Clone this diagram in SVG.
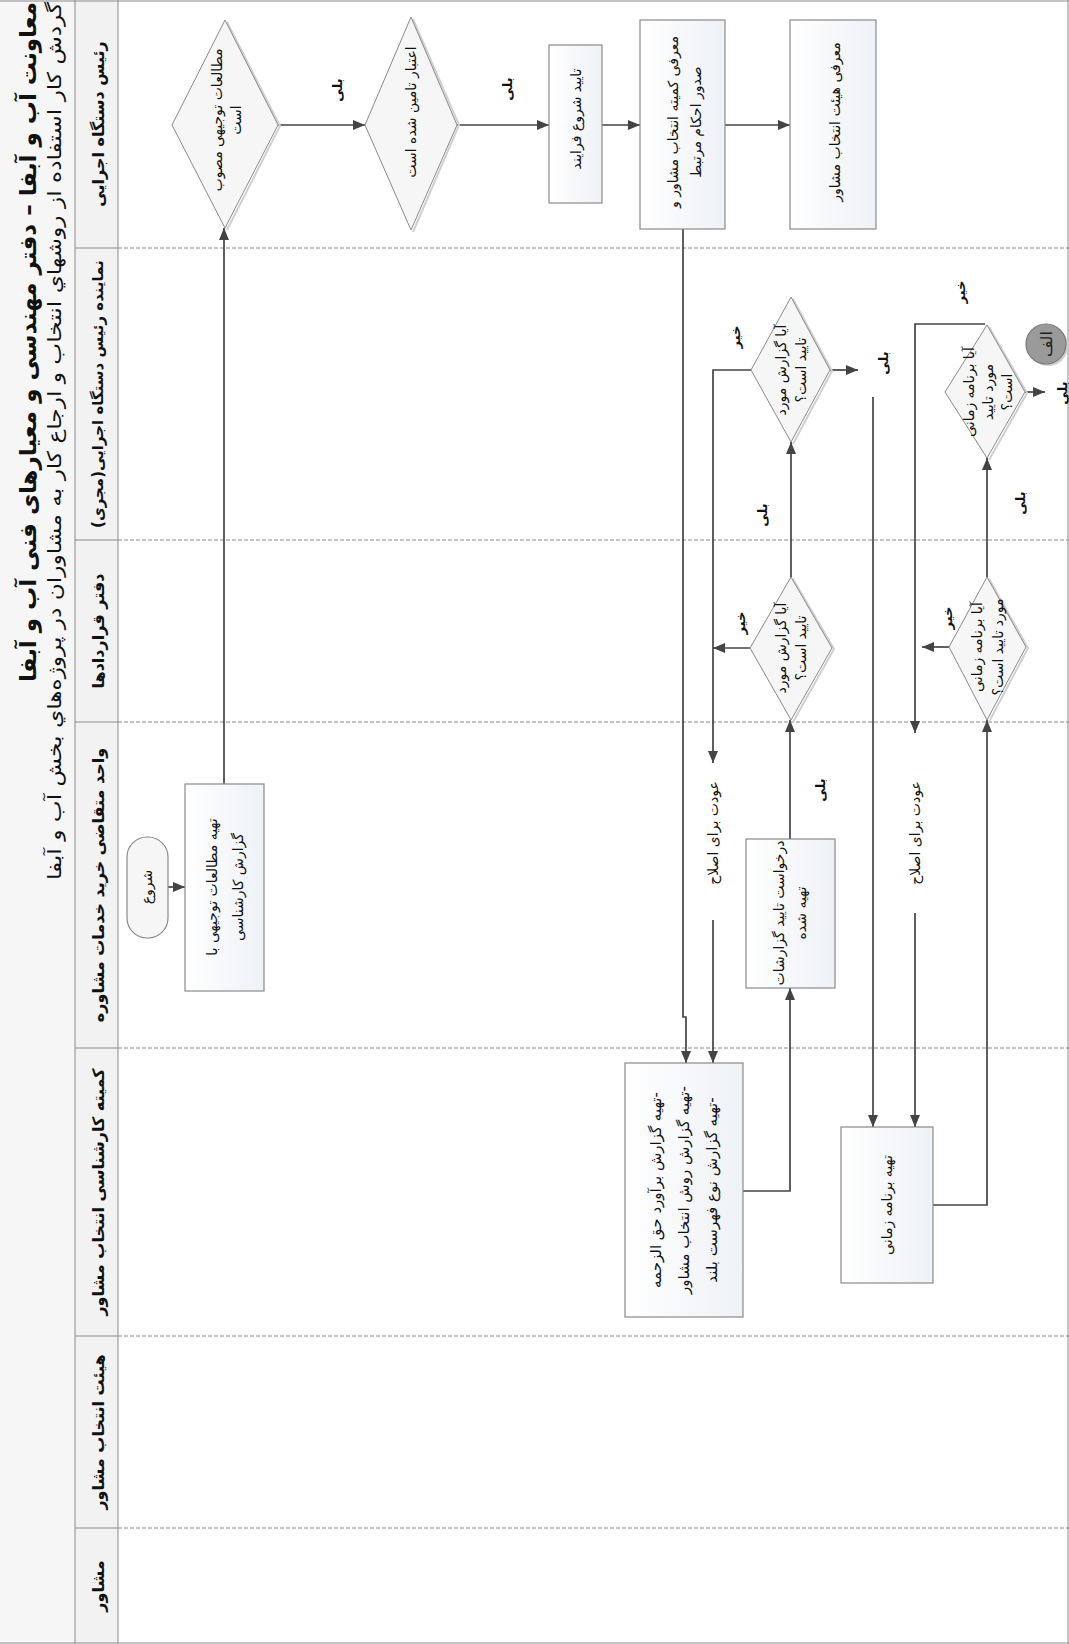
<svg xmlns="http://www.w3.org/2000/svg" width="1069" height="1644" viewBox="0 0 1069 1644">
<style>
text{font-family:"DejaVu Sans",sans-serif;fill:#111;direction:rtl;dominant-baseline:central;text-anchor:middle}
.box{fill:url(#gb);stroke:#8a8a8a;stroke-width:1.2}
.dia{fill:#f6f6f6;stroke:#8a8a8a;stroke-width:1}
.sh{fill:none;stroke:#d0d0d0;stroke-width:2}
.e{fill:none;stroke:#444;stroke-width:1.7}
.lane{stroke:#8a8a8a;stroke-width:1;stroke-dasharray:4 2}
.hl{stroke:#8a8a8a;stroke-width:1}
.n{font-size:14px}
.lb{font-size:13px;font-weight:bold}
.hd{font-size:16px;font-weight:bold}
</style>
<defs>
<linearGradient id="gb" x1="0" y1="0" x2="1" y2="0"><stop offset="0" stop-color="#ffffff"/><stop offset="1" stop-color="#eef1f6"/></linearGradient>
<marker id="ar" viewBox="0 0 12 10" refX="12" refY="5" markerWidth="12" markerHeight="10" markerUnits="userSpaceOnUse" orient="auto"><path d="M0,0 L12,5 L0,10 z" fill="#444"/></marker>
</defs>
<rect x="0" y="0" width="1069" height="1644" fill="#fff"/>
<g id="header">
<rect x="0" y="0" width="75" height="1644" fill="#f6f6f6"/>
<rect x="75" y="0" width="43" height="1644" fill="#f2f2f2"/>
<line class="hl" x1="0" y1="1" x2="1069" y2="1"/>
<line class="hl" x1="0" y1="1643" x2="1069" y2="1643"/>
<line class="hl" x1="1068" y1="0" x2="1068" y2="1644"/>
<line class="hl" x1="75" y1="0" x2="75" y2="1644"/>
<line class="hl" x1="118" y1="0" x2="118" y2="1644"/>
<text transform="translate(28,2) rotate(-90)" style="text-anchor:start;font-size:23px;font-weight:bold" textLength="680" lengthAdjust="spacingAndGlyphs">معاونت آب و آبفا – دفتر مهندسی و معیارهای فنی آب و آبفا</text>
<text transform="translate(54,2) rotate(-90)" style="text-anchor:start;font-size:19px" textLength="878" lengthAdjust="spacingAndGlyphs">گردش کار استفاده از روشهاي انتخاب و ارجاع کار به مشاوران در پروژه‌هاي بخش آب و آبفا</text>
<line class="hl" x1="75" y1="248" x2="118" y2="248"/>
<line class="hl" x1="75" y1="540" x2="118" y2="540"/>
<line class="hl" x1="75" y1="722" x2="118" y2="722"/>
<line class="hl" x1="75" y1="1048" x2="118" y2="1048"/>
<line class="hl" x1="75" y1="1336" x2="118" y2="1336"/>
<line class="hl" x1="75" y1="1528" x2="118" y2="1528"/>
<text class="hd" transform="translate(98,124) rotate(-90)">رئیس دستگاه اجرایی</text>
<text class="hd" style="font-size:15px" transform="translate(98,394) rotate(-90)">نماینده رئیس دستگاه اجرایی(مجری)</text>
<text class="hd" transform="translate(98,631) rotate(-90)">دفتر قراردادها</text>
<text class="hd" transform="translate(98,885) rotate(-90)">واحد متقاضی خرید خدمات مشاوره</text>
<text class="hd" transform="translate(98,1192) rotate(-90)">کمیته کارشناسی انتخاب مشاور</text>
<text class="hd" transform="translate(98,1432) rotate(-90)">هیئت انتخاب مشاور</text>
<text class="hd" transform="translate(98,1586) rotate(-90)">مشاور</text>
</g>
<g id="lanes">
<line class="lane" x1="118" y1="248" x2="1069" y2="248"/>
<line class="lane" x1="118" y1="540" x2="1069" y2="540"/>
<line class="lane" x1="118" y1="722" x2="1069" y2="722"/>
<line class="lane" x1="118" y1="1048" x2="1069" y2="1048"/>
<line class="lane" x1="118" y1="1336" x2="1069" y2="1336"/>
<line class="lane" x1="118" y1="1528" x2="1069" y2="1528"/>
</g>
<g id="connectors">
<path class="e" d="M168,887 H185" marker-end="url(#ar)"/>
<path class="e" d="M224,784 V228" marker-end="url(#ar)"/>
<path class="e" d="M278,125 H365" marker-end="url(#ar)"/>
<path class="e" d="M457,125 H549" marker-end="url(#ar)"/>
<path class="e" d="M602,125 H640" marker-end="url(#ar)"/>
<path class="e" d="M725,125 H790" marker-end="url(#ar)"/>
<path class="e" d="M683,229 V1017 H686 V1063" marker-end="url(#ar)"/>
<path class="e" d="M743,1191 H790 V988" marker-end="url(#ar)"/>
<path class="e" d="M790,839 V720" marker-end="url(#ar)"/>
<path class="e" d="M791,577 V442" marker-end="url(#ar)"/>
<path class="e" d="M750,648 H713" marker-end="url(#ar)"/>
<path class="e" d="M751,370 H713 V763" marker-end="url(#ar)"/>
<path class="e" d="M713,920 V1063" marker-end="url(#ar)"/>
<path class="e" d="M830,370 H858" marker-end="url(#ar)"/>
<path class="e" d="M873,397 V1127" marker-end="url(#ar)"/>
<path class="e" d="M933,1205 H987 V720" marker-end="url(#ar)"/>
<path class="e" d="M987,577 V458" marker-end="url(#ar)"/>
<path class="e" d="M949,647 H922" marker-end="url(#ar)"/>
<path class="e" d="M985,324 H915 V733" marker-end="url(#ar)"/>
<path class="e" d="M915,913 V1127" marker-end="url(#ar)"/>
<path class="e" d="M1025,392 H1045" marker-end="url(#ar)"/>
<text class="lb" transform="translate(337,90) rotate(-90)">بلی</text>
<text class="lb" transform="translate(507,89) rotate(-90)">بلی</text>
<text class="lb" transform="translate(762,515) rotate(-90)">بلی</text>
<text class="lb" transform="translate(883,363) rotate(-90)">بلی</text>
<text class="lb" transform="translate(820,790) rotate(-90)">بلی</text>
<text class="lb" transform="translate(1020,503) rotate(-90)">بلی</text>
<text class="lb" transform="translate(1062,393) rotate(-90)">بلی</text>
<text class="lb" transform="translate(740,623) rotate(-90)">خیر</text>
<text class="lb" transform="translate(735,337) rotate(-90)">خیر</text>
<text class="lb" transform="translate(947,618) rotate(-90)">خیر</text>
<text class="lb" transform="translate(960,292) rotate(-90)">خیر</text>
<text class="n" transform="translate(713,833) rotate(-90)">عودت برای اصلاح</text>
<text class="n" transform="translate(915,833) rotate(-90)">عودت برای اصلاح</text>
</g>
<g id="n-start">
<rect x="127" y="837" width="41" height="101" rx="20" ry="20" fill="#f6f6f6" stroke="#8a8a8a" stroke-width="1.2"/>
<text class="n" transform="translate(147,887) rotate(-90)">شروع</text>
</g>
<g id="n-study">
<rect class="box" x="185" y="784" width="79" height="207"/>
<text class="n" transform="translate(224,887) rotate(-90)"><tspan x="0" y="-12">تهیه مطالعات توجیهی با</tspan><tspan x="0" y="14">گزارش کارشناسی</tspan></text>
</g>
<g id="n-d1">
<path class="sh" d="M227,22 L280,126 L227,230"/>
<path class="dia" d="M225,20 L278,125 L225,228 L172,125 z"/>
<text class="n" transform="translate(225,120) rotate(-90)"><tspan x="0" y="-8">مطالعات توجیهی مصوب</tspan><tspan x="0" y="11">است</tspan></text>
</g>
<g id="n-d2">
<path class="sh" d="M413,19 L459,125 L413,232"/>
<path class="dia" d="M411,17 L457,125 L411,230 L365,125 z"/>
<text class="n" transform="translate(411,112) rotate(-90)">اعتبار تامین شده است</text>
</g>
<g id="n-approve">
<rect class="box" x="549" y="45" width="53" height="158"/>
<text class="n" transform="translate(576,119) rotate(-90)">تایید شروع فرایند</text>
</g>
<g id="n-committee-intro">
<rect class="box" x="640" y="20" width="85" height="209"/>
<text class="n" transform="translate(684,122) rotate(-90)"><tspan x="0" y="-11">معرفی کمیته انتخاب مشاور و</tspan><tspan x="0" y="12">صدور احکام مرتبط</tspan></text>
</g>
<g id="n-board-intro">
<rect class="box" x="790" y="20" width="86" height="209"/>
<text class="n" transform="translate(835,122) rotate(-90)">معرفی هیئت انتخاب مشاور</text>
</g>
<g id="n-dB">
<path class="sh" d="M793,299 L832,371 L793,444"/>
<path class="dia" d="M791,297 L830,370 L791,442 L751,370 z"/>
<text class="n" transform="translate(791,370) rotate(-90)"><tspan x="0" y="-10">آیا گزارش مورد</tspan><tspan x="0" y="10">تایید است؟</tspan></text>
</g>
<g id="n-dA">
<path class="sh" d="M793,579 L834,649 L793,722"/>
<path class="dia" d="M791,577 L832,648 L791,720 L750,648 z"/>
<text class="n" transform="translate(791,648) rotate(-90)"><tspan x="0" y="-10">آیا گزارش مورد</tspan><tspan x="0" y="10">تایید است؟</tspan></text>
</g>
<g id="n-request">
<rect class="box" x="746" y="839" width="89" height="149"/>
<text class="n" transform="translate(790,913) rotate(-90)"><tspan x="0" y="-11">درخواست تایید گزارشات</tspan><tspan x="0" y="11">تهیه شده</tspan></text>
</g>
<g id="n-reports">
<rect class="box" x="625" y="1063" width="118" height="254"/>
<text class="n" style="font-size:15px" transform="translate(684,1190) rotate(-90)"><tspan x="0" y="-28">-تهیه گزارش برآورد حق الزحمه</tspan><tspan x="0" y="0">-تهیه گزارش روش انتخاب مشاور</tspan><tspan x="0" y="28">-تهیه گزارش نوع فهرست بلند</tspan></text>
</g>
<g id="n-schedule">
<rect class="box" x="841" y="1127" width="92" height="156"/>
<text class="n" transform="translate(887,1205) rotate(-90)">تهیه برنامه زمانی</text>
</g>
<g id="n-dC">
<path class="sh" d="M989,579 L1028,648 L989,722"/>
<path class="dia" d="M987,577 L1026,647 L987,720 L949,647 z"/>
<text class="n" transform="translate(987,647) rotate(-90)"><tspan x="0" y="-10">آیا برنامه زمانی</tspan><tspan x="0" y="11">مورد تایید است؟</tspan></text>
</g>
<g id="n-dD">
<path class="sh" d="M989,327 L1027,393 L989,460"/>
<path class="dia" d="M987,325 L1025,392 L987,458 L945,392 z"/>
<text class="n" transform="translate(987,392) rotate(-90)"><tspan x="0" y="-18">آیا برنامه زمانی</tspan><tspan x="0" y="1">مورد تایید</tspan><tspan x="0" y="20">است؟</tspan></text>
</g>
<g id="n-alef">
<circle cx="1048" cy="346" r="20" fill="#cfcfcf"/>
<circle cx="1046" cy="344" r="20" fill="#9a9a9a" stroke="#7a7a7a" stroke-width="1.2"/>
<text transform="translate(1046,344) rotate(-90)" style="font-size:16px;fill:#222">الف</text>
</g>
</svg>
